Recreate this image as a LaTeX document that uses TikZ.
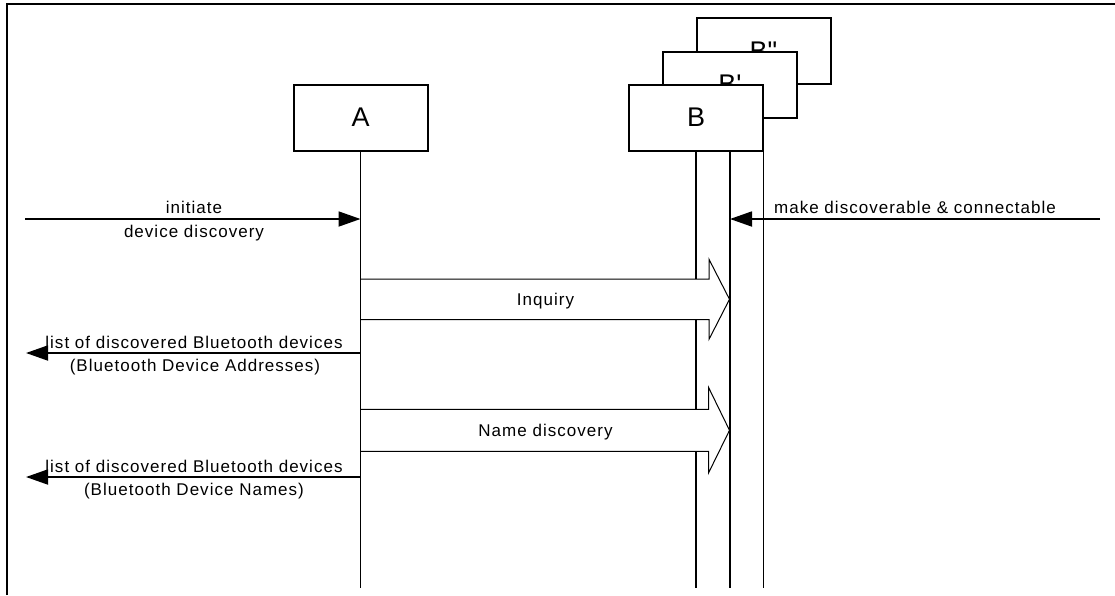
\documentclass[tikz,border=0pt]{standalone}
\usepackage{fontspec}
\usetikzlibrary{arrows.meta}
\newfontfamily\lblfont{Liberation Sans}[LetterSpace=6,Ligatures=ResetAll]
\newfontfamily\boxfont{Liberation Sans}[Ligatures=ResetAll]
\begin{document}
\begin{tikzpicture}[x=1pt,y=-1pt,
  lbl/.style={font=\lblfont\fontsize{17}{20}\selectfont, inner sep=0pt},
  ent/.style={draw, line width=2pt, fill=white, minimum width=134pt, minimum height=66pt, inner sep=0pt,
     font=\boxfont\fontsize{27}{30}\selectfont},
  life/.style={line width=1.6pt},
  msg/.style={line width=1.8pt, -{Triangle[length=22pt,width=15pt]}},
  hollow/.style={draw=black, fill=white, line width=1pt, line join=miter}]
\useasboundingbox (0,0) rectangle (1115,595);
% frame
\draw[line width=2.8pt] (7,595) -- (7,4) -- (1115,4);
% end coordinates of lifelines
\coordinate (Aend) at (360.5,588);
\coordinate (Bend) at (696,588);
\coordinate (B1end) at (730,588);
\coordinate (B2end) at (763.5,588);
\coordinate (Atop) at (360.5,151);
\coordinate (Btop) at (696,151);
\coordinate (B1top) at (730,151);
\coordinate (B2top) at (763.5,151);
\draw[life] (Atop) -- (Aend);
\draw[life] (Btop) -- (Bend);
\draw[life] (B1top) -- (B1end);
\draw[life] (B2top) -- (B2end);
% entity boxes
\node[ent] (B2) at (763.5,51) {B"};
\node[ent] (B1) at (730,84.5) {B'};
\node[ent] (B) at (696,117.5) {B};
\node[ent] (A) at (360.5,117.5) {A};
% initiate device discovery
\coordinate (initL) at (25,219);
\coordinate (initA) at (360.5,219);
\draw[msg] (initL) -- (initA);
\node[lbl, anchor=base] (t1) at (194,213) {initiate};
\node[lbl, anchor=base] (t2) at (194,237) {device discovery};
% make discoverable
\coordinate (mkR) at (1100,219);
\coordinate (mkB) at (730,219);
\draw[msg] (mkR) -- (mkB);
\node[lbl, anchor=base] (t3) at (915,213) {make discoverable \& connectable};
% Inquiry
\filldraw[hollow] (361,279) -- (709,279) -- (709,259.3) -- (729.5,299.3) -- (709,339.3) -- (709,319.5) -- (361,319.5);
\node[lbl, anchor=base] (inq) at (545.5,305.5) {Inquiry};
% list 1
\coordinate (l1A) at (360.5,353);
\coordinate (l1L) at (26,353);
\draw[msg] (l1A) -- (l1L);
\node[lbl, anchor=base] (t4) at (194,348) {list of discovered Bluetooth devices};
\node[lbl, anchor=base] (t5) at (195,371.5) {(Bluetooth Device Addresses)};
% Name discovery
\filldraw[hollow] (361,409.3) -- (708.5,409.3) -- (708.5,387.3) -- (729.5,430.3) -- (708.5,473) -- (708.5,451.3) -- (361,451.3);
\node[lbl, anchor=base] (nd) at (545.5,436) {Name discovery};
% list 2
\coordinate (l2A) at (360.5,477);
\coordinate (l2L) at (26,477);
\draw[msg] (l2A) -- (l2L);
\node[lbl, anchor=base] (t6) at (194,472) {list of discovered Bluetooth devices};
\node[lbl, anchor=base] (t7) at (194,495.5) {(Bluetooth Device Names)};
\end{tikzpicture}
\end{document}
